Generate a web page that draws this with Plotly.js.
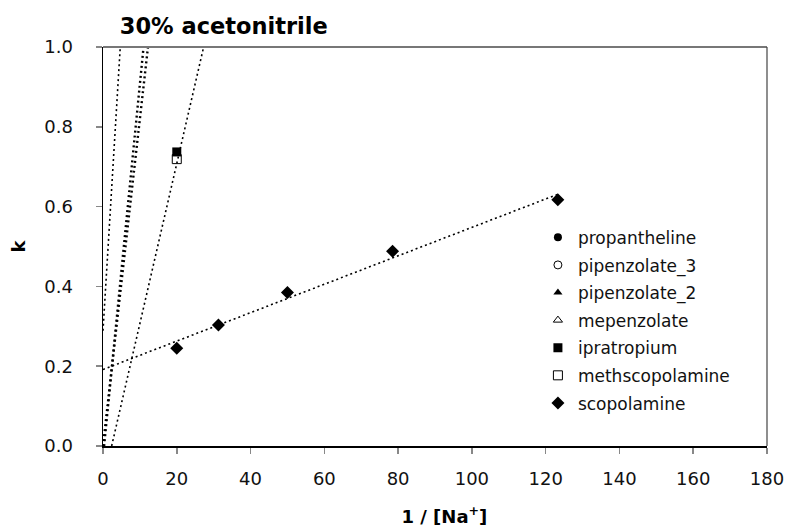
<!DOCTYPE html>
<html>
<head>
<meta charset="utf-8">
<script src="https://cdn.plot.ly/plotly-3.0.1.min.js"></script>
<style>html,body{margin:0;padding:0;background:#fff;}#chart{width:788px;height:531px;}</style>
</head>
<body>
<div id="chart"></div>
<script>
// ---- data ----
var legendNames = ["propantheline", "pipenzolate_3", "pipenzolate_2", "mepenzolate", "ipratropium", "methscopolamine", "scopolamine"];
var legendSymbols = ["circle", "circle-open", "triangle-up", "triangle-up-open", "square", "square-open", "diamond"];

// visible points (1/[Na+], k)
var ipratropiumX = [20];
var ipratropiumY = [0.737];
var methscopolamineX = [20];
var methscopolamineY = [0.719];
var scopolamineX = [20, 31.3, 50, 78.5, 123.3];
var scopolamineY = [0.245, 0.303, 0.385, 0.488, 0.617];

// linear trend lines of compounds whose points lie above the visible range (slope, intercept)
var steepFitSlopes = [0.152, 0.0935, 0.082, 0.0401];
var steepFitIntercepts = [0.289, -0.028, 0.0, -0.094];
var steepFitWidths = [1.6, 2.4, 2.4, 1.6];

var xTicks = [0, 20, 40, 60, 80, 100, 120, 140, 160, 180];
var yTicks = [0.0, 0.2, 0.4, 0.6, 0.8, 1.0];

// ---- build traces ----
var traces = [];
var black = "#000";

for (var i = 0; i < steepFitSlopes.length; i++) {
  var m = steepFitSlopes[i], b = steepFitIntercepts[i];
  var x0 = Math.max(0, -b / m);
  var x1 = (1.05 - b) / m;
  traces.push({
    x: [x0, x1], y: [m * x0 + b, m * x1 + b], mode: "lines", showlegend: false, hoverinfo: "skip",
    line: {color: black, width: steepFitWidths[i], dash: "2px,3px"}
  });
}

// scopolamine regression line
(function () {
  var n = scopolamineX.length, sx = 0, sy = 0, sxx = 0, sxy = 0;
  for (var j = 0; j < n; j++) { sx += scopolamineX[j]; sy += scopolamineY[j]; sxx += scopolamineX[j] * scopolamineX[j]; sxy += scopolamineX[j] * scopolamineY[j]; }
  var slope = (n * sxy - sx * sy) / (n * sxx - sx * sx);
  var icpt = (sy - slope * sx) / n;
  var xe = Math.max.apply(null, scopolamineX);
  traces.push({
    x: [0, xe], y: [icpt, icpt + slope * xe], mode: "lines", showlegend: false, hoverinfo: "skip",
    line: {color: black, width: 1.6, dash: "2px,3px"}
  });
})();

var pointsX = {ipratropium: ipratropiumX, methscopolamine: methscopolamineX, scopolamine: scopolamineX};
var pointsY = {ipratropium: ipratropiumY, methscopolamine: methscopolamineY, scopolamine: scopolamineY};

for (var k = 0; k < legendNames.length; k++) {
  var nm = legendNames[k];
  var sym = legendSymbols[k];
  var sz = sym.indexOf("square") === 0 ? 9 : (sym === "diamond" ? 10 : 8);
  traces.push({
    name: nm,
    legendgroup: "g" + k,
    x: pointsX[nm] || [null],
    y: pointsY[nm] || [null],
    mode: "markers",
    marker: {symbol: sym, size: sz, color: black, line: {color: black, width: sym.indexOf("open") > 0 ? 1 : 0}}
  });
}

var font = "DejaVu Sans, Verdana, sans-serif";
var layout = {
  width: 788, height: 531,
  margin: {l: 103, r: 21, t: 47, b: 85, pad: 0},
  paper_bgcolor: "#fff", plot_bgcolor: "#fff",
  font: {family: font, color: "#111", size: 17},
  showlegend: true,
  title: {text: "<b>30% acetonitrile</b>", x: 0.152, xanchor: "left", xref: "container", y: 0.951, yanchor: "middle", font: {size: 22.5, family: font, color: "#000"}},
  xaxis: {
    range: [0, 180], tickvals: xTicks, ticktext: xTicks.map(String),
    showgrid: false, zeroline: false, showline: true, linecolor: "#000", linewidth: 1.5,
    ticks: "outside", ticklen: 6, tickcolor: "#888", tickwidth: 1.5, ticklabelstandoff: 10,
    tickfont: {size: 18, family: font, color: "#111"},
    title: {text: "<b>&nbsp;&nbsp;&nbsp;1 / [Na<sup>+</sup>]</b>", font: {size: 18, family: font, color: "#000"}, standoff: 22}
  },
  yaxis: {
    range: [0, 1.0], tickvals: yTicks, ticktext: yTicks.map(function (v) { return v.toFixed(1); }),
    showgrid: false, zeroline: false, showline: true, linecolor: "#000", linewidth: 1.5,
    ticks: "outside", ticklen: 6, tickcolor: "#888", tickwidth: 1.5, ticklabelstandoff: 19,
    tickfont: {size: 18, family: font, color: "#111"},
    title: {text: "<b>k</b>", font: {size: 18, family: font, color: "#000"}, standoff: 14}
  },
  shapes: [
    {type: "line", xref: "paper", yref: "paper", x0: 0, x1: 1, y0: 1, y1: 1, line: {color: "#777", width: 2}},
    {type: "line", xref: "paper", yref: "paper", x0: 1, x1: 1, y0: 0, y1: 1, line: {color: "#444", width: 1.2}}
  ],
  legend: {
    x: 0.655, y: 0.567, xanchor: "left", yanchor: "top",
    bgcolor: "rgba(0,0,0,0)", borderwidth: 0,
    font: {size: 17, family: font, color: "#111"},
    itemwidth: 30, tracegroupgap: 2.5
  }
};

Plotly.newPlot("chart", traces, layout, {displayModeBar: false, staticPlot: true});
</script>
</body>
</html>
